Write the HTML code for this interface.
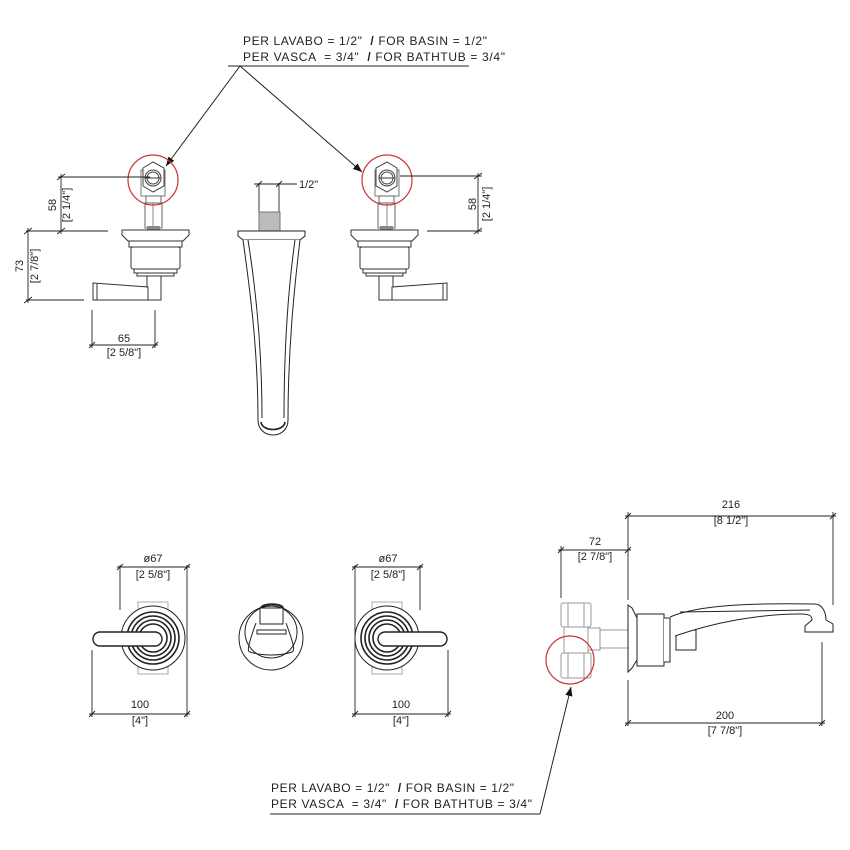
<!DOCTYPE html>
<html><head><meta charset="utf-8"><style>
html,body{margin:0;padding:0;background:#fff}
svg{display:block}
text{font-family:"Liberation Sans",sans-serif;font-size:11px;fill:#222}
text.lbl{font-size:12px;white-space:pre}
</style></head><body>
<svg width="850" height="850" viewBox="0 0 850 850" xmlns="http://www.w3.org/2000/svg">
<defs>
<marker id="ar" viewBox="0 0 10 10" refX="10" refY="5" markerWidth="9" markerHeight="9" orient="auto"><path d="M0,1 L10,5 L0,9 z" fill="#111"/></marker>
<g id="valve">
 <rect x="141" y="170" width="24" height="26" fill="#fff" stroke="#777"/>
 <polygon points="143,168 153,162 164,168 164,186 153,192 143,186" fill="#fff" stroke="#444"/>
 <circle cx="153" cy="178" r="8" fill="none" stroke="#444"/>
 <circle cx="153" cy="178" r="6" fill="none" stroke="#444"/>
 <line x1="145" y1="178" x2="161" y2="178" stroke="#333"/>
 <rect x="146" y="196" width="15" height="7" fill="#fff" stroke="#666"/>
 <rect x="145" y="203" width="17" height="25" fill="#fff" stroke="#666"/>
 <line x1="153" y1="203" x2="153" y2="228" stroke="#888"/>
 <rect x="147" y="226" width="13" height="4" fill="#888"/>
 <path d="M122,230 H189 V235 L183,241 H128 L122,235 Z" fill="#fff" stroke="#333"/>
 <rect x="129" y="241" width="53" height="6" fill="#fff" stroke="#333"/>
 <rect x="131" y="247" width="49" height="22" rx="2" fill="#fff" stroke="#333"/>
 <rect x="134" y="269" width="43" height="4" fill="#fff" stroke="#333"/>
 <rect x="137" y="273" width="37" height="3" fill="#fff" stroke="#333"/>
 <rect x="147" y="276" width="14" height="24" fill="#fff" stroke="#333"/>
 <path d="M93,283 L148,287 L148,300 L93,300 Z" fill="#fff" stroke="#333"/>
 <line x1="97" y1="284" x2="97" y2="300" stroke="#333"/>
</g>
<g id="front">
 <rect x="138" y="602" width="30" height="72" fill="#fff" stroke="#aaa"/>
 <circle cx="153" cy="638" r="32" fill="#fff" stroke="#222"/>
 <circle cx="153" cy="638" r="26" fill="none" stroke="#222" stroke-width="1.6"/>
 <circle cx="153" cy="638" r="22" fill="none" stroke="#222" stroke-width="1.6"/>
 <circle cx="153" cy="638" r="18" fill="none" stroke="#222" stroke-width="1.6"/>
 <circle cx="153" cy="638" r="14" fill="none" stroke="#222" stroke-width="1.6"/>
 <path d="M100,632 H155 A7,7 0 0 1 155,646 H100 A7,7 0 0 1 100,632 Z" fill="#fff" stroke="#222" stroke-width="1.4"/>
</g>
</defs>

<g stroke="#222" stroke-width="1" fill="none">
<line x1="228" y1="66" x2="469" y2="66"/>
<line x1="240" y1="66" x2="166" y2="166" marker-end="url(#ar)"/>
<line x1="240" y1="66" x2="362" y2="172" marker-end="url(#ar)"/>
<line x1="270" y1="814" x2="540" y2="814"/>
<line x1="540" y1="814" x2="571" y2="687" marker-end="url(#ar)"/>
</g>

<use href="#valve"/>
<use href="#valve" transform="translate(540,0) scale(-1,1)"/>
<circle cx="153" cy="180" r="25" fill="none" stroke="#c33" stroke-width="1.2"/>
<circle cx="387" cy="180" r="25" fill="none" stroke="#c33" stroke-width="1.2"/>

<g stroke="#222" stroke-width="0.9" fill="none">
 <line x1="58" y1="177" x2="150" y2="177"/>
 <line x1="58" y1="231" x2="108" y2="231"/>
 <line x1="61" y1="174" x2="61" y2="234"/>
 <line x1="57" y1="180" x2="65" y2="174"/><line x1="57" y1="234" x2="65" y2="228"/>
 <line x1="26" y1="231" x2="58" y2="231"/>
 <line x1="26" y1="300" x2="84" y2="300"/>
 <line x1="28" y1="228" x2="28" y2="303"/>
 <line x1="24" y1="234" x2="32" y2="228"/><line x1="24" y1="303" x2="32" y2="297"/>
 <line x1="92" y1="310" x2="92" y2="348"/>
 <line x1="155" y1="310" x2="155" y2="348"/>
 <line x1="89" y1="345" x2="158" y2="345"/>
 <line x1="89" y1="348" x2="95" y2="342"/><line x1="152" y1="348" x2="158" y2="342"/>
 <line x1="400" y1="176" x2="482" y2="176"/>
 <line x1="427" y1="231" x2="482" y2="231"/>
 <line x1="478" y1="173" x2="478" y2="234"/>
 <line x1="474" y1="179" x2="482" y2="173"/><line x1="474" y1="234" x2="482" y2="228"/>
 <line x1="259" y1="183" x2="259" y2="212"/>
 <line x1="279" y1="183" x2="279" y2="212"/>
 <line x1="254" y1="184" x2="297" y2="184"/>
 <line x1="256" y1="187" x2="262" y2="181"/><line x1="276" y1="187" x2="282" y2="181"/>
</g>
<text transform="translate(56,205) rotate(-90)" text-anchor="middle">58</text>
<text transform="translate(70,205) rotate(-90)" text-anchor="middle">[2 1/4"]</text>
<text transform="translate(23,266) rotate(-90)" text-anchor="middle">73</text>
<text transform="translate(38,266) rotate(-90)" text-anchor="middle">[2 7/8"]</text>
<text x="124" y="342" text-anchor="middle">65</text>
<text x="124" y="356" text-anchor="middle">[2 5/8"]</text>
<text transform="translate(476,204) rotate(-90)" text-anchor="middle">58</text>
<text transform="translate(490,204) rotate(-90)" text-anchor="middle">[2 1/4"]</text>
<text x="299" y="188">1/2"</text>

<g stroke="#222" stroke-width="1" fill="#fff">
 <rect x="259" y="212" width="21" height="19" fill="#bbb" stroke="#777"/>
 <path d="M238,231 H305 V236 L300,240 H243 L238,236 Z"/>
 <path d="M243,240 C250,290 258,350 258,420 C258,440 288,440 288,420 C288,350 294,290 300,240"/>
 <path d="M248,240 C256,290 262,350 262,418" fill="none"/>
 <path d="M295,240 C288,290 284,350 284,418" fill="none"/>
 <path d="M261,422 C262,432 284,432 285,422" fill="none" stroke-width="1.6"/>
</g>

<use href="#front"/>
<use href="#front" transform="translate(540,0) scale(-1,1)"/>
<g stroke="#222" stroke-width="1" fill="#fff">
 <circle cx="271" cy="638" r="32"/>
 <circle cx="271" cy="632" r="26" fill="none"/>
 <path d="M256,623 C246,650 248,652 250,652 C262,656 280,656 292,652 C294,650 296,650 286,623" fill="none"/>
 <path d="M260,608 H283 V624 H260 Z"/>
 <path d="M261,608 C262,603 282,603 283,608" fill="none" stroke-width="2"/>
 <rect x="257" y="630" width="29" height="4"/>
</g>
<g stroke="#222" stroke-width="0.9" fill="none">
 <line x1="120" y1="565" x2="120" y2="610"/><line x1="187" y1="565" x2="187" y2="680"/>
 <line x1="117" y1="567" x2="190" y2="567"/>
 <line x1="117" y1="570" x2="123" y2="564"/><line x1="184" y1="570" x2="190" y2="564"/>
 <line x1="92" y1="650" x2="92" y2="717"/><line x1="187" y1="680" x2="187" y2="717"/>
 <line x1="89" y1="714" x2="190" y2="714"/>
 <line x1="89" y1="717" x2="95" y2="711"/><line x1="184" y1="717" x2="190" y2="711"/>
 <line x1="355" y1="565" x2="355" y2="717"/><line x1="420" y1="565" x2="420" y2="610"/>
 <line x1="352" y1="567" x2="423" y2="567"/>
 <line x1="352" y1="570" x2="358" y2="564"/><line x1="417" y1="570" x2="423" y2="564"/>
 <line x1="448" y1="650" x2="448" y2="717"/>
 <line x1="352" y1="714" x2="451" y2="714"/>
 <line x1="352" y1="717" x2="358" y2="711"/><line x1="445" y1="717" x2="451" y2="711"/>
</g>
<text x="153" y="562" text-anchor="middle">ø67</text>
<text x="153" y="578" text-anchor="middle">[2 5/8"]</text>
<text x="140" y="708" text-anchor="middle">100</text>
<text x="140" y="724" text-anchor="middle">[4"]</text>
<text x="388" y="562" text-anchor="middle">ø67</text>
<text x="388" y="578" text-anchor="middle">[2 5/8"]</text>
<text x="401" y="708" text-anchor="middle">100</text>
<text x="401" y="724" text-anchor="middle">[4"]</text>

<g stroke="#999" stroke-width="1" fill="#fff">
 <rect x="561" y="603" width="30" height="24" rx="2"/>
 <line x1="568" y1="603" x2="568" y2="627"/><line x1="584" y1="603" x2="584" y2="627"/>
 <rect x="564" y="627" width="24" height="26"/>
 <rect x="561" y="653" width="30" height="25" rx="2"/>
 <line x1="568" y1="653" x2="568" y2="678"/><line x1="584" y1="653" x2="584" y2="678"/>
 <rect x="588" y="628" width="12" height="22"/>
 <rect x="600" y="630" width="28" height="18"/>
</g>
<circle cx="570" cy="660" r="24" fill="none" stroke="#c33" stroke-width="1.2"/>
<g stroke="#222" stroke-width="1" fill="#fff">
 <path d="M628,605 L632,608 L637,618 V660 L632,668 L628,672 Z"/>
 <rect x="637" y="614" width="27" height="52"/>
 <path d="M664,618 H670 V662 H664"/>
 <rect x="676" y="630" width="20" height="20"/>
 <path d="M670,617 C700,604 760,603 815,604 C822,604 826,612 826,620 L833,624 V632 H805 V626 L812,620 C812,616 810,614 800,614 C760,614 715,622 675,636"/>
 <line x1="680" y1="612" x2="810" y2="610" fill="none"/>
</g>
<g stroke="#222" stroke-width="0.9" fill="none">
 <line x1="628" y1="512" x2="628" y2="600"/>
 <line x1="833" y1="512" x2="833" y2="605"/>
 <line x1="625" y1="516" x2="836" y2="516"/>
 <line x1="625" y1="519" x2="631" y2="513"/><line x1="830" y1="519" x2="836" y2="513"/>
 <line x1="561" y1="546" x2="561" y2="598"/>
 <line x1="558" y1="550" x2="631" y2="550"/>
 <line x1="558" y1="553" x2="564" y2="547"/><line x1="625" y1="553" x2="631" y2="547"/>
 <line x1="628" y1="680" x2="628" y2="726"/>
 <line x1="822" y1="642" x2="822" y2="726"/>
 <line x1="625" y1="723" x2="825" y2="723"/>
 <line x1="625" y1="726" x2="631" y2="720"/><line x1="819" y1="726" x2="825" y2="720"/>
</g>
<text x="731" y="508" text-anchor="middle">216</text>
<text x="731" y="524" text-anchor="middle">[8 1/2"]</text>
<text x="595" y="545" text-anchor="middle">72</text>
<text x="595" y="560" text-anchor="middle">[2 7/8"]</text>
<text x="725" y="719" text-anchor="middle">200</text>
<text x="725" y="734" text-anchor="middle">[7 7/8"]</text>

<text class="lbl" x="243" y="45" textLength="244" lengthAdjust="spacing" xml:space="preserve">PER LAVABO = 1/2"  <tspan font-weight="bold">/</tspan> FOR BASIN = 1/2"</text>
<text class="lbl" x="243" y="61" textLength="262" lengthAdjust="spacing" xml:space="preserve">PER VASCA  = 3/4"  <tspan font-weight="bold">/</tspan> FOR BATHTUB = 3/4"</text>
<text class="lbl" x="271" y="792" textLength="243" lengthAdjust="spacing" xml:space="preserve">PER LAVABO = 1/2"  <tspan font-weight="bold">/</tspan> FOR BASIN = 1/2"</text>
<text class="lbl" x="271" y="808" textLength="261" lengthAdjust="spacing" xml:space="preserve">PER VASCA  = 3/4"  <tspan font-weight="bold">/</tspan> FOR BATHTUB = 3/4"</text>
</svg>
</body></html>
